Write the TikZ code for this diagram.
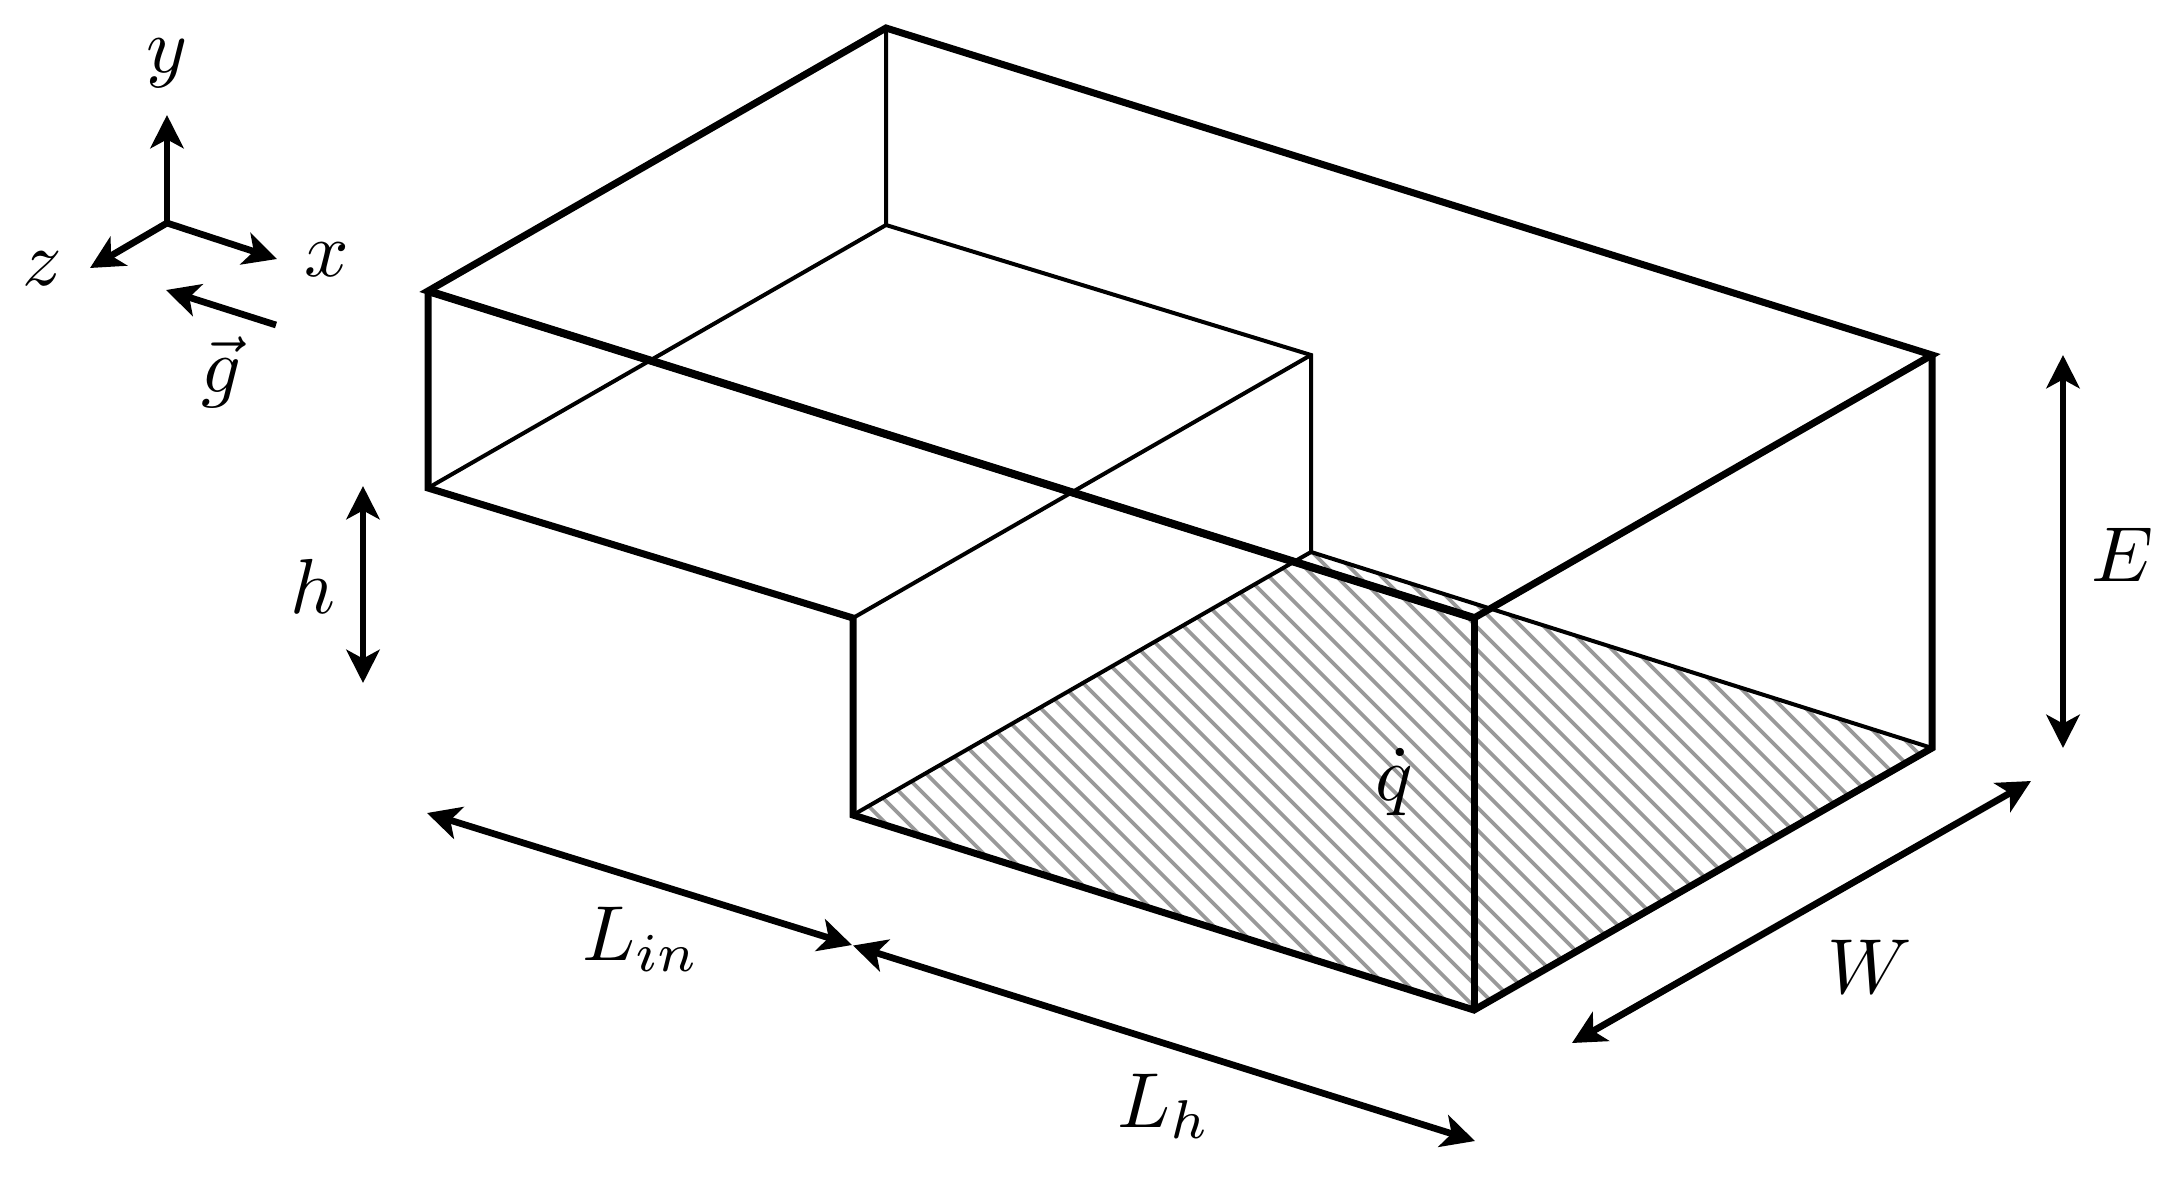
\documentclass[tikz,border=0pt]{standalone}
\usetikzlibrary{arrows.meta}
\definecolor{hatchgray}{gray}{0.6}
\tikzset{
  thickedge/.style={line width=1.75pt,line join=miter,miter limit=20},
  thinedge/.style={line width=1pt,line join=miter},
  tipstyle/.style={line width=1.68pt,>={Stealth[length=8.3pt,width=8.3pt,inset=2.2pt]}},
  hatchline/.style={line width=0.9pt,color=hatchgray},
  lab/.style={inner sep=0pt,scale=1.95,anchor=base}
}
\begin{document}
\begin{tikzpicture}[x=0.25pt,y=-0.25pt]
\path[use as bounding box] (0,0) rectangle (2175,1179);
% vertices
\coordinate (A) at (886,28);
\coordinate (A2) at (886,225);
\coordinate (B) at (1932,355);
\coordinate (B2) at (1932,748);
\coordinate (C) at (428,291);
\coordinate (C2) at (428,488);
\coordinate (D) at (1474,618);
\coordinate (D2) at (1474,1010);
\coordinate (S1) at (853,618);
\coordinate (S2) at (853,815);
\coordinate (M1) at (1311,355);
\coordinate (M2) at (1311,552);
% heated floor hatching
\begin{scope}
\clip (S2) -- (D2) -- (B2) -- (M2) -- cycle;
\foreach \c in {-1210,-1187.5,...,0}
  \draw[hatchline] (300,300+\c) -- (2300,2300+\c);
\end{scope}
% thin edges
\draw[thinedge] (A) -- (A2) -- (M1) -- (M2) -- (B2);
\draw[thinedge] (C2) -- (A2);
\draw[thinedge] (S1) -- (M1);
\draw[thinedge] (S2) -- (M2);
% thick edges
\draw[thickedge] (C) -- (A) -- (B) -- (D) -- cycle;
\draw[thickedge] (C) -- (C2) -- (S1) -- (S2) -- (D2) -- (B2) -- (B);
\draw[thickedge] (D) -- (D2);
\draw[line width=2pt] (C) -- (D);
% axes
\coordinate (O) at (167,223);
\coordinate (Yt) at (167,115);
\coordinate (Xt) at (277,259);
\coordinate (Zt) at (90,268);
\coordinate (Gs) at (276,325);
\coordinate (Gt) at (166,290);
\draw[tipstyle,->] (O) -- (Yt);
\draw[tipstyle,->] (O) -- (Xt);
\draw[tipstyle,->] (O) -- (Zt);
\draw[tipstyle,->] (Gs) -- (Gt);
% dimension arrows
\coordinate (h1) at (363,486);
\coordinate (h2) at (363,683);
\coordinate (E1) at (2063,355);
\coordinate (E2) at (2063,748);
\coordinate (Li1) at (427,813);
\coordinate (Li2) at (852,945);
\coordinate (Lh1) at (853,945.5);
\coordinate (Lh2) at (1475,1141);
\coordinate (W1) at (1572,1043);
\coordinate (W2) at (2031,781);
\draw[tipstyle,<->] (h1) -- (h2);
\draw[tipstyle,<->] (E1) -- (E2);
\draw[tipstyle,<->] (Li1) -- (Li2);
\draw[tipstyle,<->] (Lh1) -- (Lh2);
\draw[tipstyle,<->] (W1) -- (W2);
% labels
\node[lab] (ly) at (167,72) {$y$};
\node[lab] (lx) at (327,276) {$x$};
\node[lab] (lz) at (42,285) {$z$};
\node[lab] (lg) at (221,392) {$\vec{g}$};
\node[lab] (lh) at (313,613) {$h$};
\node[lab] (lE) at (2123,581) {$E$};
\node[lab] (lLi) at (641,960) {$L_{in}$};
\node[lab] (lLh) at (1164,1127) {$L_h$};
\node[lab] (lW) at (1870,993) {$W$};
\node[lab] (lq) at (1394,800) {$\dot{q}$};
\end{tikzpicture}
\end{document}
